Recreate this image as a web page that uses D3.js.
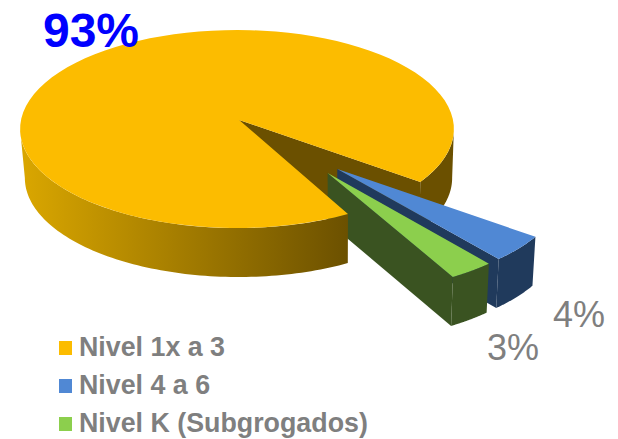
<!DOCTYPE html>
<html>
<head>
<meta charset="utf-8">
<script src="https://cdn.jsdelivr.net/npm/d3@7"></script>
<style>
    html, body { margin:0; padding:0; background:#fff; }
    svg { display:block; }
    text { font-family:'Liberation Sans', Arial, sans-serif; }
</style>
</head>
<body>
<div id="chart"></div>
<script>
// chart data
const categories = ['Nivel 1x a 3', 'Nivel 4 a 6', 'Nivel K (Subgrogados)'];
const values = [93, 4, 3];

// slice colours, same order as categories
const topColors = ['#fcbc00', '#5088d4', '#8ccf4d'];
const sideColors = ['#6b5000', '#203a5c', '#3a5321'];
const labelColors = ['#0000ff', '#7f7f7f', '#7f7f7f'];

// setting up layout variables
const width = 618;
const height = 439;
const center = {x:237, y:120};
const radius = 216;
const perspective = 0.0909;    // how much nearer points grow
const tilt = 98.2;             // vertical radius at the center line
const depth = 49;              // thickness of the pie on screen
const depthScale = 0.985;      // the bottom face sits a bit further away
const depthShift = 1.5;
const startAngle = 151.8 * Math.PI / 180;

// exploded slices are pushed out on the disc (unit radius)
const explode = [{u:0, v:0}, {u:0.444, v:0.477}, {u:0.4, v:0.514}];
// tip of each slice, relative to its offset (big slice tip is not quite centered)
const tips = [{u:0.01, v:0}, {u:0, v:0}, {u:0, v:0}];
const labelPos = [{x:91, y:47, size:48}, {x:579, y:327, size:36}, {x:513, y:360, size:36}];

const svg = d3.select('#chart').append('svg')
    .attr('width', width)
    .attr('height', height);

// setting up scales, disc coordinates to screen
const scaleX = d3.scaleLinear().domain([-1, 1]).range([center.x - radius, center.x + radius]);
const scaleY = d3.scaleLinear().domain([-1, 1]).range([center.y - tilt, center.y + tilt]);

// perspective projection of a disc point, lifted or not to the bottom face
function project(u, v, bottom) {
    const s = 1 / (1 - perspective * v);
    const x = scaleX(u * s);
    const y = scaleY(v * s);
    if (!bottom) return [x, y];
    return [center.x + (x - center.x) * depthScale + depthShift, y + depth];
}

// point on the rim, a is measured clockwise from the top
function rim(a, off, bottom) {
    return project(Math.sin(a) + off.u, -Math.cos(a) + off.v, bottom);
}

function arcPoints(a0, a1, off, bottom) {
    const n = 90;
    return d3.range(n + 1).map(i => rim(a0 + (a1 - a0) * i / n, off, bottom));
}

const line = d3.line();
const closed = pts => line(pts) + 'Z';

// pie layout keeps the angles
const pie = d3.pie().sort(null).value(d => d)
    .startAngle(startAngle)
    .endAngle(startAngle + 2 * Math.PI);
const slices = pie(values);

const tipPoint = (i, bottom) => project(explode[i].u + tips[i].u, explode[i].v + tips[i].v, bottom);

const topFace = i => closed([
    tipPoint(i, false),
    ...arcPoints(slices[i].startAngle, slices[i].endAngle, explode[i], false)
]);
const rimFace = (a0, a1, off) => closed([
    ...arcPoints(a0, a1, off, false),
    ...arcPoints(a1, a0, off, true)
]);
const wallFace = (a, i) => closed([
    tipPoint(i, false),
    rim(a, explode[i], false),
    rim(a, explode[i], true),
    tipPoint(i, true)
]);

// gradient on the front rim of the big slice
const defs = svg.append('defs');
const gradient = defs.append('linearGradient')
    .attr('id', 'rim-gold')
    .attr('gradientUnits', 'userSpaceOnUse')
    .attr('x1', 24).attr('x2', 350)
    .attr('y1', 0).attr('y2', 0);
gradient.append('stop').attr('offset', 0).attr('stop-color', '#d9a600');
gradient.append('stop').attr('offset', 1).attr('stop-color', sideColors[0]);

const plot = svg.append('g').attr('class', 'plot');

// the rim only shows between the widest points of the ellipse
const silhouette = Math.acos(perspective);
const goldEnd = slices[0].endAngle - 2 * Math.PI;

/* BIG SLICE, BACK PARTS */
plot.append('path')
    .attr('d', rimFace(Math.PI - silhouette, goldEnd, explode[0]))
    .style('fill', sideColors[0]);
plot.append('path')
    .attr('d', wallFace(goldEnd, 0))
    .style('fill', sideColors[0]);

/* EXPLODED SLICES */
[1, 2].forEach(i => {
    const s = slices[i];
    const g = plot.append('g').attr('class', 'slice');
    g.append('path')
        .attr('d', wallFace(s.endAngle, i))
        .style('fill', sideColors[i]);
    g.append('path')
        .attr('d', rimFace(s.startAngle, s.endAngle, explode[i]))
        .style('fill', sideColors[i]);
    g.append('path')
        .attr('d', topFace(i))
        .style('fill', topColors[i]);
});

/* BIG SLICE, FRONT PARTS */
plot.append('path')
    .attr('d', rimFace(slices[0].startAngle, Math.PI + silhouette, explode[0]))
    .style('fill', 'url(#rim-gold)');
plot.append('path')
    .attr('d', topFace(0))
    .style('fill', topColors[0]);

/* VALUE LABELS */
svg.selectAll('.value-label')
    .data(values)
    .enter()
    .append('text')
    .classed('value-label', true)
    .attr('x', (d, i) => labelPos[i].x)
    .attr('y', (d, i) => labelPos[i].y)
    .attr('text-anchor', 'middle')
    .style('font-size', (d, i) => labelPos[i].size + 'px')
    .style('font-weight', (d, i) => i === 0 ? 'bold' : 'normal')
    .style('fill', (d, i) => labelColors[i])
    .text(d => d + '%');

/* LEGEND */
const legendY = d3.scalePoint().domain(categories).range([356, 432]);
const legend = svg.selectAll('.legend-item')
    .data(categories)
    .enter()
    .append('g')
    .classed('legend-item', true)
    .attr('transform', d => `translate(59,${legendY(d)})`);
legend.append('rect')
    .attr('x', 0)
    .attr('y', -15)
    .attr('width', 13)
    .attr('height', 14)
    .style('fill', (d, i) => topColors[i]);
legend.append('text')
    .attr('x', 20)
    .attr('y', 0)
    .style('font-size', '26.8px')
    .style('font-weight', 'bold')
    .style('fill', '#7f7f7f')
    .text(d => d);
</script>
</body>
</html>
